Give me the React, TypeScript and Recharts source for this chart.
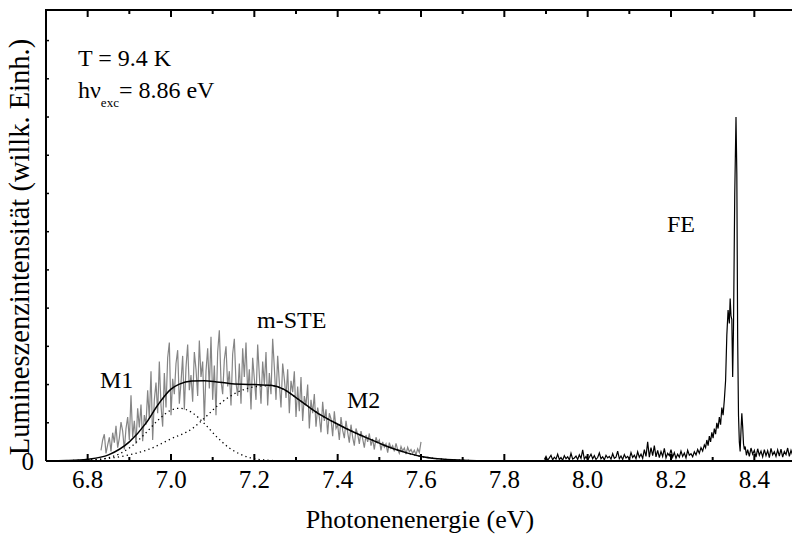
import React from 'react';
import { LineChart, Line, XAxis, YAxis } from 'recharts';

// measured m-STE band (grey trace), one reading every 4 meV starting at 6.832 eV
const grayStart = 6.832;
const grayStep = 0.004;
const grayIntensity = [
  0.28, 0.55, 0.70, 0.20, 0.42, 0.62, 0.25, 0.74,
  0.48, 0.92, 0.35, 0.60, 1.02, 0.78, 0.30, 0.85, 1.15, 0.55,
  1.72, 0.62, 1.05, 0.45, 1.38, 0.88, 1.48, 0.52, 1.20, 0.95,
  1.85, 1.10, 2.35, 0.55, 1.60, 2.05, 1.25, 2.60, 1.45, 0.90,
  2.30, 1.40, 2.70, 3.10, 1.20, 2.15, 1.75, 2.55, 2.90, 1.50,
  2.05, 2.75, 1.35, 2.45, 3.05, 1.85, 2.25, 1.55, 2.85, 2.40,
  1.70, 3.15, 2.20, 2.60, 1.05, 2.35, 2.95, 1.90, 3.25, 1.60,
  2.50, 1.20, 2.85, 3.42, 2.10, 1.75, 2.65, 3.00, 1.95, 2.35,
  1.45, 2.80, 3.20, 2.05, 1.70, 2.55, 1.50, 2.95, 2.20, 3.10,
  1.80, 2.40, 1.35, 2.70, 2.15, 1.60, 3.05, 2.25, 1.50, 2.60,
  2.00, 2.85, 1.45, 2.30, 1.75, 3.20, 2.45, 1.60, 2.75, 2.05,
  1.40, 2.55, 2.15, 1.65, 2.40, 1.25, 2.10, 1.80, 2.35, 1.15,
  1.95, 1.30, 2.20, 1.05, 1.70, 1.45, 2.00, 0.85, 1.60, 1.25,
  1.75, 0.90, 1.40, 1.15, 0.75, 1.55, 1.05, 1.35, 0.70, 1.25,
  1.10, 0.65, 1.30, 0.85, 0.95, 0.55, 1.15, 0.80, 0.60, 1.05,
  0.75, 0.48, 0.95, 0.62, 0.40, 0.85, 0.70, 0.45, 0.78, 0.58,
  0.35, 0.68, 0.50, 0.72, 0.40, 0.58, 0.30, 0.62, 0.48, 0.55,
  0.28, 0.50, 0.36, 0.45, 0.22, 0.48, 0.33, 0.40, 0.25, 0.46,
  0.30, 0.20, 0.38, 0.26, 0.34, 0.18, 0.36, 0.24, 0.30, 0.20,
  0.28, 0.16, 0.32, 0.22, 0.50,
];

// fitted sum (solid) and the two components M1, M2 (dotted)
const fitEnergy = [6.70, 6.75, 6.80, 6.85, 6.90, 6.94, 6.97, 7.00, 7.02, 7.05, 7.08, 7.11, 7.14, 7.17, 7.20, 7.24, 7.27, 7.30, 7.33, 7.36, 7.39, 7.42, 7.45, 7.48, 7.51, 7.54, 7.57, 7.60, 7.64, 7.70, 7.78];
const fitIntensity = [0.0, 0.01, 0.045, 0.16, 0.50, 0.99, 1.49, 1.88, 2.01, 2.09, 2.10, 2.07, 2.03, 2.01, 2.00, 1.98, 1.88, 1.66, 1.42, 1.20, 1.02, 0.85, 0.70, 0.56, 0.42, 0.30, 0.20, 0.12, 0.06, 0.02, 0.0];

const m1Energy = [6.70, 6.75, 6.80, 6.85, 6.90, 6.94, 6.97, 7.00, 7.02, 7.05, 7.08, 7.11, 7.14, 7.17, 7.20, 7.25, 7.30];
const m1Intensity = [0.0, 0.002, 0.013, 0.085, 0.34, 0.74, 1.08, 1.33, 1.38, 1.27, 0.98, 0.63, 0.34, 0.16, 0.06, 0.01, 0.0];

const m2Energy = [6.70, 6.75, 6.80, 6.85, 6.90, 6.95, 7.00, 7.05, 7.08, 7.11, 7.14, 7.17, 7.20, 7.24, 7.27, 7.30, 7.33, 7.36, 7.39, 7.42, 7.45, 7.48, 7.51, 7.54, 7.57, 7.60, 7.64, 7.70, 7.78];
const m2Intensity = [0.002, 0.01, 0.03, 0.07, 0.16, 0.32, 0.58, 0.84, 1.12, 1.43, 1.68, 1.85, 1.94, 1.97, 1.88, 1.66, 1.42, 1.20, 1.02, 0.85, 0.70, 0.56, 0.42, 0.30, 0.20, 0.12, 0.06, 0.02, 0.0];

// free exciton region (black trace)
const feLeftStart = 7.896;
const feStep = 0.004;
const feLeftIntensity = [
  0.04, 0.12, 0.02, 0.08, 0.15, 0.03, 0.10, 0.05, 0.18, 0.04,
  0.09, 0.02, 0.14, 0.06, 0.11, 0.03, 0.20, 0.05, 0.08, 0.13,
  0.04, 0.16, 0.07, 0.29, 0.05, 0.12, 0.03, 0.10, 0.18, 0.06,
  0.14, 0.04, 0.09, 0.21, 0.06, 0.11, 0.03, 0.15, 0.08, 0.12,
  0.05, 0.19, 0.07, 0.10, 0.26, 0.06, 0.13, 0.04, 0.17, 0.08,
  0.12, 0.05, 0.22, 0.09, 0.15, 0.06, 0.24, 0.10, 0.18, 0.07,
  0.30, 0.12, 0.50, 0.10, 0.35, 0.14, 0.40, 0.11, 0.28, 0.09,
  0.25, 0.12, 0.33, 0.08, 0.20, 0.14, 0.30, 0.10, 0.22, 0.07,
  0.18, 0.10, 0.26, 0.12, 0.21, 0.08, 0.28, 0.15, 0.19, 0.11,
  0.24, 0.16, 0.30, 0.20, 0.35, 0.26, 0.42,
];
const fePeakEnergy = [
  8.283, 8.286, 8.289, 8.292, 8.295, 8.298, 8.301, 8.304, 8.307, 8.310,
  8.313, 8.316, 8.319, 8.322, 8.325, 8.328, 8.331, 8.334, 8.337, 8.340,
  8.342, 8.344, 8.346, 8.348, 8.350, 8.353, 8.356, 8.358, 8.360, 8.362,
  8.364, 8.366, 8.368, 8.370, 8.372, 8.374, 8.376, 8.378, 8.381,
];
const fePeakIntensity = [
  0.35, 0.55, 0.40, 0.65, 0.50, 0.75, 0.60, 0.85, 0.70, 1.00,
  0.85, 1.15, 0.95, 1.40, 1.20, 1.60, 2.10, 3.30, 3.95, 3.60,
  4.25, 3.80, 3.70, 2.20, 3.50, 7.00, 9.00, 7.50, 3.20, 1.20,
  0.50, 0.25, 0.80, 1.25, 0.90, 0.45, 0.30, 0.38, 0.15,
];
const feRightStart = 8.384;
const feRightIntensity = [
  0.30, 0.12, 0.34, 0.18, 0.28, 0.10, 0.32, 0.15, 0.26, 0.11,
  0.30, 0.14, 0.27, 0.09, 0.33, 0.16, 0.24, 0.12, 0.29, 0.13,
  0.31, 0.10, 0.25, 0.17, 0.34, 0.12, 0.28, 0.15, 0.36, 0.20,
];

const X_MIN = 6.7;
const X_MAX = 8.5;
const Y_MAX = 11.8;
const xTicks = [6.7, 6.8, 6.9, 7.0, 7.1, 7.2, 7.3, 7.4, 7.5, 7.6, 7.7, 7.8, 7.9, 8.0, 8.1, 8.2, 8.3, 8.4, 8.5];
const xLabels = [6.8, 7.0, 7.2, 7.4, 7.6, 7.8, 8.0, 8.2, 8.4];
const yTicks = [0, 1, 2, 3, 4, 5, 6, 7, 8, 9, 10, 11];

// plot frame in pixels
const CHART_W = 800;
const CHART_H = 536;
const PLOT_LEFT = 46;
const PLOT_RIGHT = 796;
const PLOT_TOP = 10;

const FONT = 'Liberation Serif';

const grid = (start: number, step: number, values: number[]) =>
  values.map((y, i) => ({ x: +(start + i * step).toFixed(4), y }));
const pairs = (xs: number[], ys: number[]) => xs.map((x, i) => ({ x, y: ys[i] }));

const grayData = grid(grayStart, grayStep, grayIntensity);
const fitData = pairs(fitEnergy, fitIntensity);
const m1Data = pairs(m1Energy, m1Intensity);
const m2Data = pairs(m2Energy, m2Intensity);
const feData = [
  ...grid(feLeftStart, feStep, feLeftIntensity),
  ...pairs(fePeakEnergy, fePeakIntensity),
  ...grid(feRightStart, feStep, feRightIntensity),
];

const isMajor = (v: number) => xLabels.some((l) => Math.abs(l - v) < 1e-6);
const topX = (t: number) => PLOT_LEFT + ((t - X_MIN) / (X_MAX - X_MIN)) * (PLOT_RIGHT - PLOT_LEFT);

const BottomTick = (props: any) => {
  const { x, y, payload } = props;
  const major = isMajor(payload.value);
  return (
    <g>
      <line x1={x} x2={x} y1={y} y2={y - (major ? 7 : 4)} stroke="#000" strokeWidth={2} />
      {major && (
        <text x={x} y={y + 27} textAnchor="middle" fontSize={25} fontFamily={FONT} fill="#000">
          {payload.value.toFixed(1)}
        </text>
      )}
    </g>
  );
};

const LeftTick = (props: any) => {
  const { x, y, payload } = props;
  return (
    <g>
      <line x1={x} x2={x + 3} y1={y} y2={y} stroke="#000" strokeWidth={1.5} />
      {payload.value === 0 && (
        <text x={x - 12} y={y + 9} textAnchor="end" fontSize={25} fontFamily={FONT} fill="#000">
          0
        </text>
      )}
    </g>
  );
};

export default function App() {
  return (
    <div style={{ position: 'absolute', left: 0, top: 0, width: 792, height: 536, overflow: 'hidden', background: '#fff' }}>
      <LineChart width={CHART_W} height={CHART_H} margin={{ top: PLOT_TOP, right: 4, bottom: 0, left: 0 }}>
        <XAxis
          dataKey="x"
          type="number"
          domain={[X_MIN, X_MAX]}
          ticks={xTicks}
          interval={0}
          allowDataOverflow
          height={75}
          tickSize={0}
          tickMargin={0}
          tick={<BottomTick />}
          axisLine={{ stroke: '#000', strokeWidth: 2 }}
        />
        <YAxis
          type="number"
          domain={[0, Y_MAX]}
          ticks={yTicks}
          interval={0}
          allowDataOverflow
          width={PLOT_LEFT}
          tickSize={0}
          tickMargin={0}
          tick={<LeftTick />}
          axisLine={{ stroke: '#000', strokeWidth: 2 }}
        />

        <Line data={grayData} dataKey="y" type="linear" stroke="#858585" strokeWidth={1.2} dot={false} activeDot={false} isAnimationActive={false} />
        <Line data={m1Data} dataKey="y" type="monotone" stroke="#000" strokeWidth={1.3} strokeDasharray="1.3 3.2" dot={false} activeDot={false} isAnimationActive={false} />
        <Line data={m2Data} dataKey="y" type="monotone" stroke="#000" strokeWidth={1.3} strokeDasharray="1.3 3.2" dot={false} activeDot={false} isAnimationActive={false} />
        <Line data={fitData} dataKey="y" type="monotone" stroke="#000" strokeWidth={1.5} dot={false} activeDot={false} isAnimationActive={false} />
        <Line data={feData} dataKey="y" type="linear" stroke="#000" strokeWidth={1.2} dot={false} activeDot={false} isAnimationActive={false} />

        <g>
          <text x={78} y={66} fontSize={24} fontFamily={FONT} fill="#000">T = 9.4 K</text>
          <text x={78} y={98} fontSize={24} fontFamily={FONT} fill="#000">
            hν<tspan fontSize={13} dy={9}>exc</tspan>
            <tspan dy={-9}>= 8.86 eV</tspan>
          </text>
          <text x={100} y={388} fontSize={24} fontFamily={FONT} fill="#000">M1</text>
          <text x={257} y={328} fontSize={24} fontFamily={FONT} fill="#000">m-STE</text>
          <text x={347} y={408} fontSize={24} fontFamily={FONT} fill="#000">M2</text>
          <text x={667} y={232} fontSize={24} fontFamily={FONT} fill="#000">FE</text>
          <text x={420} y={528} textAnchor="middle" fontSize={26} fontFamily={FONT} fill="#000">
            Photonenenergie (eV)
          </text>
          <text transform="translate(29, 247) rotate(-90)" textAnchor="middle" fontSize={28.5} fontFamily={FONT} fill="#000">
            Lumineszenzintensität (willk. Einh.)
          </text>
        </g>
      </LineChart>

      {/* top edge of the frame with inward ticks, laid over the chart */}
      <svg
        width={CHART_W}
        height={CHART_H}
        style={{ position: 'absolute', left: 0, top: 0, pointerEvents: 'none', zIndex: 10 }}
      >
        <line x1={PLOT_LEFT - 1} x2={PLOT_RIGHT} y1={PLOT_TOP} y2={PLOT_TOP} stroke="#000" strokeWidth={2} />
        {xTicks.map((t) => (
          <line
            key={`top-${t}`}
            x1={topX(t)}
            x2={topX(t)}
            y1={PLOT_TOP}
            y2={PLOT_TOP + (isMajor(t) ? 7 : 4)}
            stroke="#000"
            strokeWidth={2}
          />
        ))}
      </svg>
    </div>
  );
}
